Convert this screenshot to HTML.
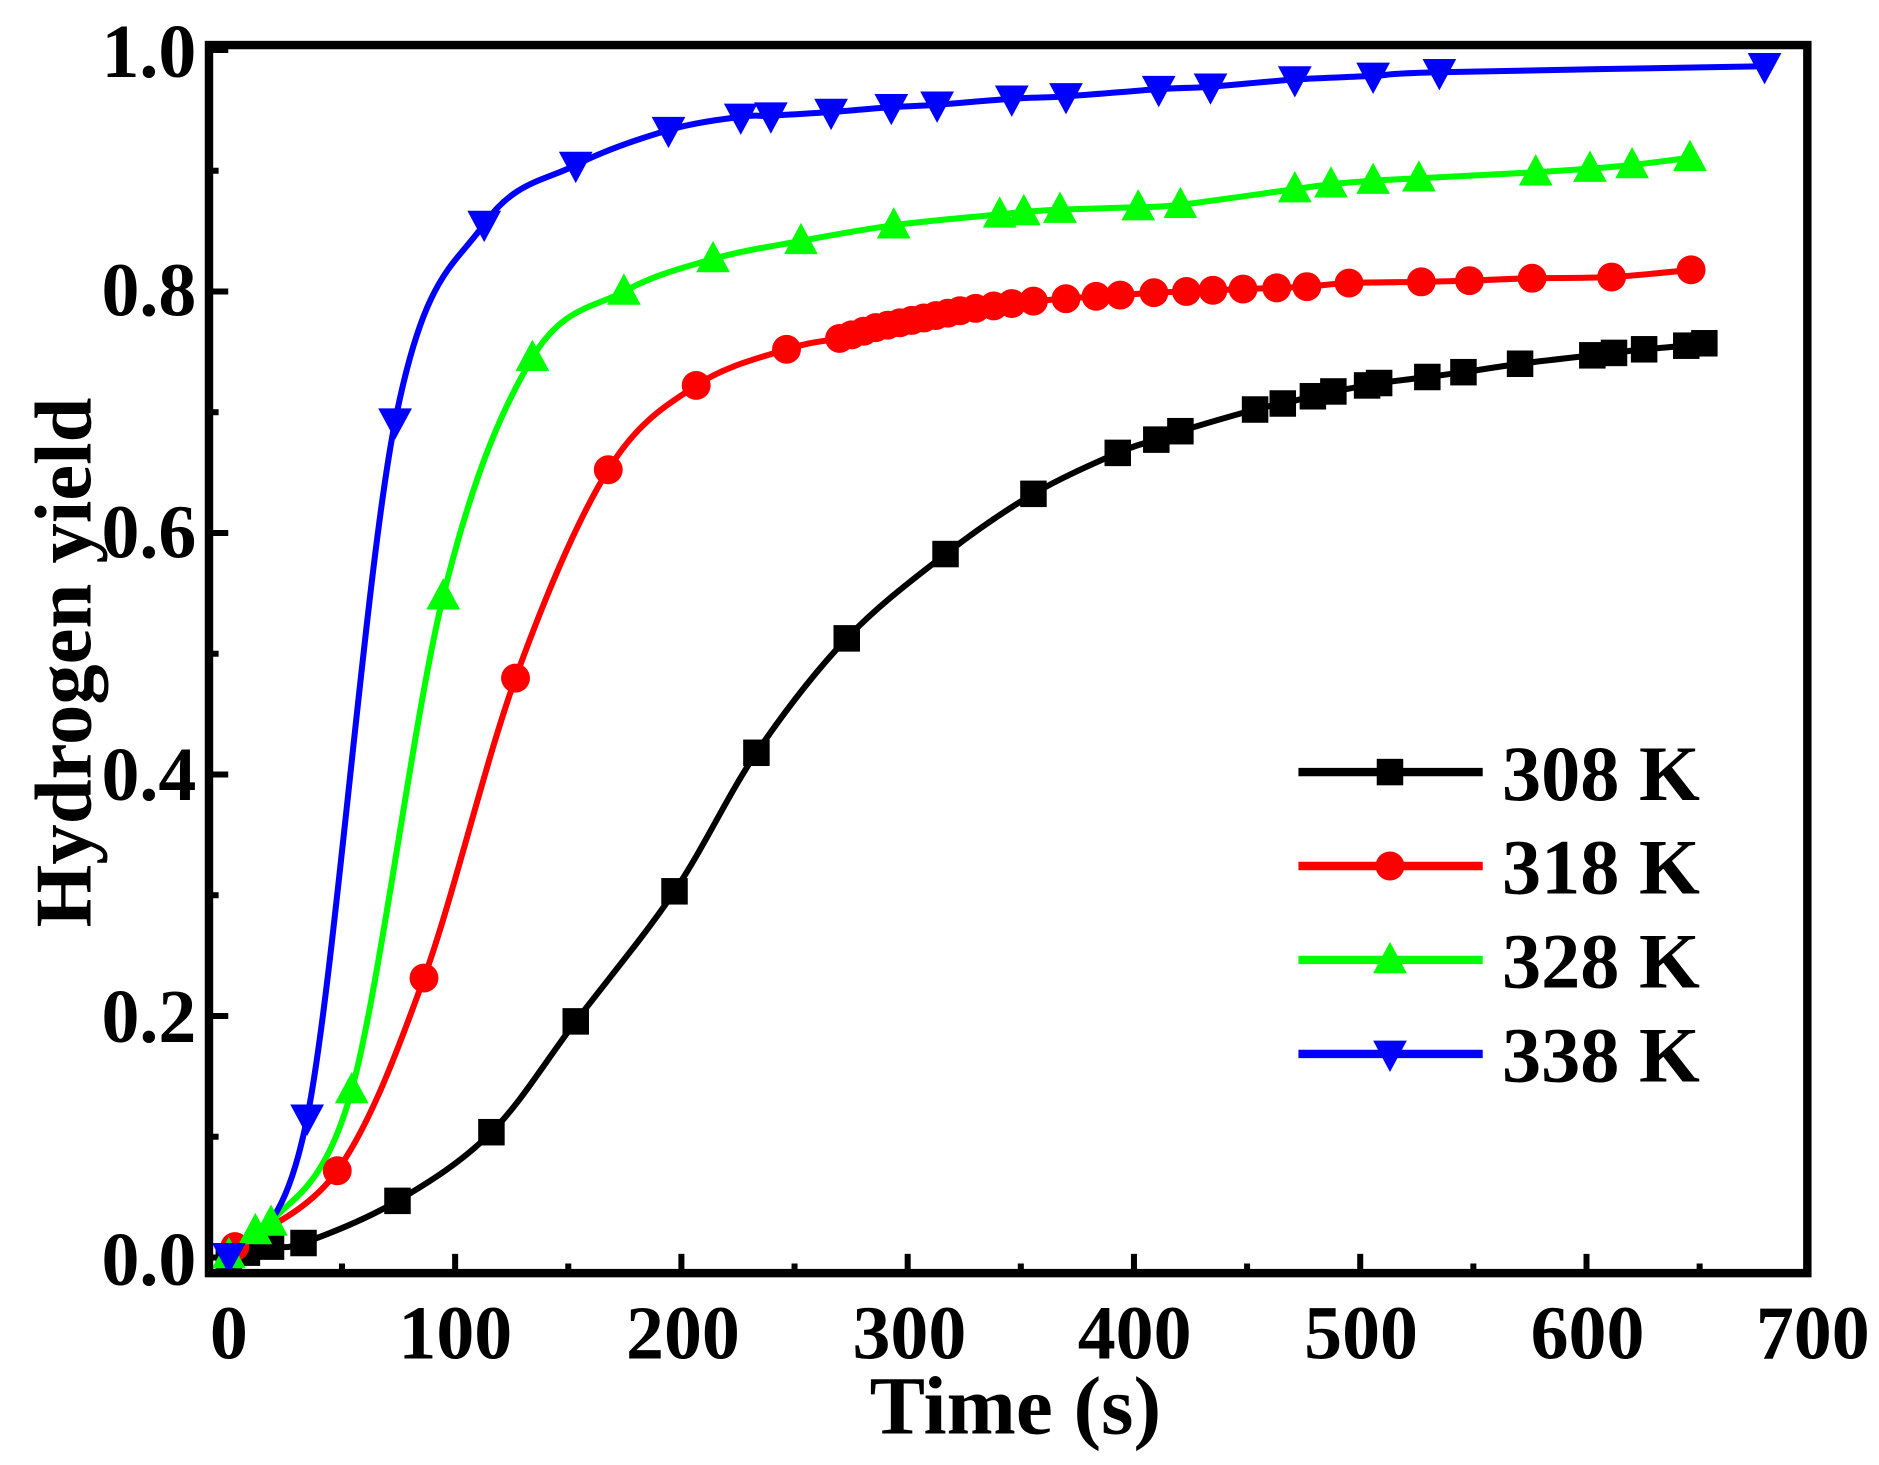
<!DOCTYPE html>
<html><head><meta charset="utf-8"><style>
html,body{margin:0;padding:0;background:#fff;}
svg{display:block;}
text{font-family:"Liberation Serif",serif;font-weight:bold;fill:#000;}
</style></head><body>
<svg id="s" width="1879" height="1465" viewBox="0 0 1560 1216.3" preserveAspectRatio="none" xmlns="http://www.w3.org/2000/svg">
<rect width="1560" height="1217" fill="#fff"/>
<g id="ticks" stroke="#000" stroke-width="5"></g>
<g id="curves" fill="none" stroke-width="5" stroke-linejoin="round"></g>
<g id="marks"></g>
<rect x="173.5" y="37.4" width="1327" height="1019.6" fill="none" stroke="#000" stroke-width="7"/>
<g font-size="63" text-anchor="end">
<text x="163" y="64">1.0</text>
<text x="163" y="262">0.8</text>
<text x="163" y="463">0.6</text>
<text x="163" y="664">0.4</text>
<text x="163" y="865">0.2</text>
<text x="163" y="1067">0.0</text>
</g>
<g font-size="63" text-anchor="middle">
<text x="190" y="1128">0</text>
<text x="378" y="1128">100</text>
<text x="567" y="1128">200</text>
<text x="755" y="1128">300</text>
<text x="942" y="1128">400</text>
<text x="1130" y="1128">500</text>
<text x="1318" y="1128">600</text>
<text x="1505" y="1128">700</text>
</g>
<text x="843" y="1190" font-size="69" text-anchor="middle">Time (s)</text>
<text transform="translate(75,550) rotate(-90)" font-size="67" text-anchor="middle">Hydrogen yield</text>
<g font-size="65">
<text x="1247" y="664">308 K</text>
<text x="1247" y="742">318 K</text>
<text x="1247" y="820">328 K</text>
<text x="1247" y="898">338 K</text>
</g>
<g id="legend"></g>
</svg>
<script>
var NS="http://www.w3.org/2000/svg";
function el(t,a,p){var e=document.createElementNS(NS,t);for(var k in a)e.setAttribute(k,a[k]);document.getElementById(p).appendChild(e);return e;}
for(var i=0;i<=14;i++){var x=190+i*187.86/2;var L=(i%2==0)?16:8;if(x<1498)el('line',{x1:x,y1:1057,x2:x,y2:1057-L},'ticks');}
for(var i=0;i<=10;i++){var y=1044-i*100.25;var L=(i%2==0)?16:8;el('line',{x1:173.5,y1:y,x2:173.5+L,y2:y},'ticks');}
var S={
black:[[190,1045],[205,1040],[225,1035],[252,1032],[330,997],[408,940],[478,848],[560,740],[628,625],[703,530],[785,460],[858,410],[928,376],[960,365],[980,358],[1042,340],[1065,335],[1090,329],[1107,325],[1135,320],[1145,318],[1185,313],[1215,309],[1262,302],[1322,295],[1340,293],[1365,290],[1400,287],[1415,285]],
red:[[195,1035],[280,972],[352,812],[428,563],[505,390],[578,320],[653,290],[697,281],[707,278],[717,275],[727,272],[737,270],[747,268],[757,266],[767,264],[777,262],[787,260],[797,258],[810,256],[825,254],[840,252],[858,250],[885,248],[910,246],[930,245],[958,243],[985,242],[1007,241],[1032,240],[1060,239],[1085,238],[1120,235],[1180,234],[1220,233],[1272,231],[1338,230],[1404,224]],
green:[[190,1042],[212,1022],[225,1015],[292,905],[368,495],[442,297],[518,242],[592,215],[665,200],[742,187],[830,178],[850,176],[880,174],[945,172],[980,170],[1075,157],[1105,153],[1140,150],[1178,148],[1275,143],[1320,140],[1355,137],[1403,131]],
blue:[[190,1043],[255,928],[328,350],[402,186],[478,137],[555,108],[615,97],[640,96],[690,93],[740,89],[778,87],[840,82],[885,80],[962,74],[1005,72],[1075,66],[1140,63],[1195,60],[1465,55]]};
var col={black:'#000',red:'#f00',green:'#0f0',blue:'#00f'};
function path(p){var d='M'+p[0][0]+','+p[0][1];for(var i=0;i<p.length-1;i++){var a=p[i-1]||p[i],b=p[i],c=p[i+1],e=p[i+2]||c;var t=6;d+=' C'+(b[0]+(c[0]-a[0])/t)+','+(b[1]+(c[1]-a[1])/t)+' '+(c[0]-(e[0]-b[0])/t)+','+(c[1]-(e[1]-b[1])/t)+' '+c[0]+','+c[1];}return d;}
function marker(k,x,y,g){var c=col[k];
 if(k=='black')el('rect',{x:x-11,y:y-11,width:22,height:22,fill:c},g);
 else if(k=='red')el('circle',{cx:x,cy:y,r:12,fill:c},g);
 else if(k=='green')el('polygon',{points:(x-14)+','+(y+11)+' '+(x+14)+','+(y+11)+' '+x+','+(y-15),fill:c},g);
 else el('polygon',{points:(x-14)+','+(y-11)+' '+(x+14)+','+(y-11)+' '+x+','+(y+15),fill:c},g);}
for(var k in S){el('path',{d:path(S[k]),stroke:col[k]},'curves');S[k].forEach(function(p){marker(k,p[0],p[1],'marks');});}
var ly={black:641,red:719,green:797,blue:875};
for(var k in ly){el('line',{x1:1078,y1:ly[k],x2:1231,y2:ly[k],stroke:col[k],'stroke-width':7},'legend');marker(k,1154,ly[k],'legend');}
</script>
</body></html>
